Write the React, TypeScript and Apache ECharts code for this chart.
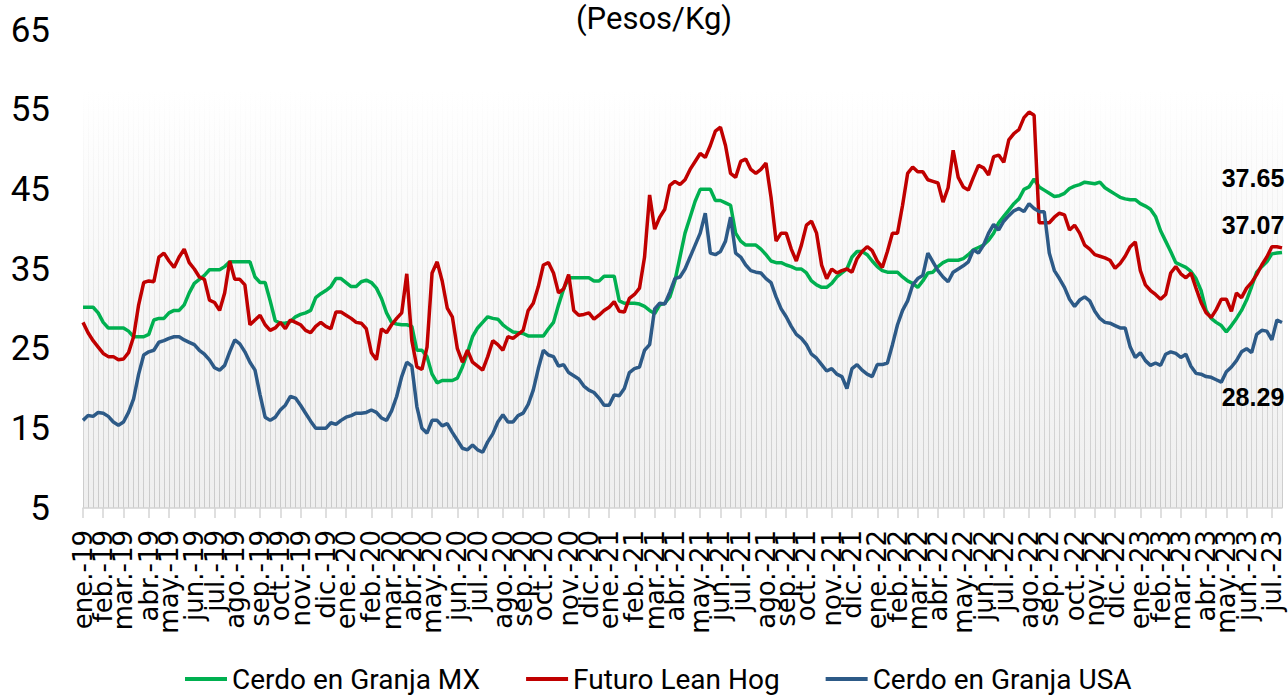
import React, { useEffect, useRef } from "react";
import * as echarts from "echarts";

// ---------- data ----------
const WEEK_START_UTC = [2019, 0, 4]; // first weekly observation (Friday)
const MONTH_ABBR = ["ene.", "feb.", "mar.", "abr.", "may.", "jun.", "jul.", "ago.", "sep.", "oct.", "nov.", "dic."];
const SERIES_NAMES = ["Cerdo en Granja MX", "Futuro Lean Hog", "Cerdo en Granja USA"];
const Y_MIN = 5;
const Y_MAX = 65;
const Y_STEP = 10;

const MX = [
  30.2, 30.2, 30.2, 29.5, 28.3, 27.6, 27.6, 27.6, 27.6, 27.2,
  26.5, 26.5, 26.5, 26.8, 28.6, 28.8, 28.8, 29.5, 29.8, 29.8,
  30.5, 32.0, 33.2, 33.7, 34.2, 34.9, 34.9, 34.9, 35.3, 35.9,
  35.9, 35.9, 35.9, 35.9, 34.0, 33.3, 33.3, 31.0, 28.5, 28.2,
  28.2, 28.4, 29.0, 29.3, 29.5, 29.8, 31.4, 31.9, 32.3, 32.8,
  33.8, 33.8, 33.3, 32.8, 32.8, 33.4, 33.6, 33.3, 32.6, 31.3,
  29.5, 28.3, 28.1, 28.0, 28.0, 27.8, 24.8, 24.8, 24.0, 21.8,
  20.7, 21.0, 21.0, 21.0, 21.3, 22.7, 24.5, 26.5, 27.6, 28.3,
  29.0, 28.8, 28.7, 28.0, 27.5, 27.1, 27.0, 26.9, 26.6, 26.6,
  26.6, 26.6, 27.5, 28.3, 30.5, 32.5, 33.9, 33.9, 33.9, 33.9,
  33.9, 33.5, 33.5, 34.1, 34.1, 34.1, 31.0, 30.7, 30.7, 30.7,
  30.6, 30.3, 29.8, 29.4, 30.5, 30.7, 31.5, 33.5, 36.5, 39.5,
  41.5, 43.5, 45.0, 45.0, 45.0, 43.6, 43.6, 43.3, 43.0, 39.5,
  38.5, 38.0, 38.0, 38.0, 37.5, 36.8, 36.0, 35.8, 35.8, 35.5,
  35.3, 35.0, 35.0, 34.5, 33.5, 33.0, 32.7, 32.7, 33.2, 34.0,
  34.5, 35.0, 36.5, 37.2, 37.2, 36.8, 36.0, 35.3, 34.8, 34.6,
  34.6, 34.6, 34.0, 33.5, 33.2, 32.7, 33.5, 34.5, 34.6, 35.3,
  35.8, 36.1, 36.1, 36.1, 36.3, 36.8, 37.4, 37.7, 38.0, 38.6,
  39.5, 40.8, 41.6, 42.4, 43.2, 43.8, 45.0, 45.3, 46.3, 45.3,
  44.9, 44.5, 44.1, 44.2, 44.5, 45.1, 45.4, 45.6, 45.9, 45.8,
  45.7, 45.9, 45.2, 44.8, 44.4, 44.0, 43.8, 43.7, 43.7, 43.2,
  42.9, 42.5, 41.6, 39.8, 38.5, 37.2, 35.8, 35.5, 35.2, 34.7,
  33.8, 32.3, 29.8, 28.8, 28.3, 27.9, 27.1, 27.9, 28.8, 29.8,
  31.1, 32.8, 34.6, 35.3, 35.9, 36.9, 37.0, 37.07,
];

const LEAN_HOG = [
  28.3, 27.0, 26.0, 25.2, 24.4, 24.0, 24.0, 23.6, 23.7, 24.5,
  26.5, 30.5, 33.3, 33.5, 33.4, 36.5, 37.0, 36.0, 35.2, 36.5,
  37.5, 35.8, 35.0, 34.0, 33.7, 31.1, 30.8, 29.8, 32.0, 36.0,
  33.7, 33.7, 33.0, 28.0, 28.6, 29.2, 28.0, 27.3, 27.6, 28.3,
  27.5, 28.6, 28.3, 28.0, 27.3, 27.0, 27.8, 28.3, 27.8, 27.5,
  29.6, 29.6, 29.2, 28.8, 28.3, 28.2, 27.5, 24.5, 23.6, 27.5,
  27.0, 28.0, 28.8, 29.5, 34.4, 26.0, 22.7, 22.4, 25.2, 34.5,
  35.9, 33.5, 30.1, 29.0, 25.0, 23.3, 24.8, 23.3, 22.8, 22.3,
  24.0, 26.0, 25.5, 24.8, 26.5, 26.3, 26.8, 27.3, 29.8, 30.7,
  32.8, 35.5, 35.8, 34.5, 32.0, 32.5, 34.3, 29.8, 29.2, 29.3,
  29.5, 28.7, 29.2, 29.8, 30.2, 30.9, 29.7, 29.6, 31.3, 31.8,
  32.6, 36.5, 44.3, 40.0, 41.5, 42.5, 45.5, 46.0, 45.6, 46.2,
  47.5, 48.5, 49.5, 49.0, 50.5, 52.3, 52.8, 50.5, 47.0, 46.5,
  48.5, 48.8, 47.5, 47.0, 47.5, 48.3, 44.0, 38.5, 39.5, 39.5,
  37.5, 36.0, 38.0, 40.5, 41.0, 39.5, 35.5, 33.8, 35.0, 34.5,
  34.8, 35.0, 34.6, 36.3, 37.2, 37.8, 37.3, 36.0, 35.2, 37.2,
  39.5, 39.5, 43.0, 47.0, 47.8, 47.2, 47.2, 46.2, 46.0, 45.8,
  43.4, 45.2, 49.9, 46.5, 45.3, 44.9, 46.5, 48.0, 47.7, 46.8,
  49.1, 49.3, 48.4, 51.2, 52.0, 52.5, 54.0, 54.7, 54.3, 40.8,
  40.8, 40.8, 41.5, 42.0, 41.8, 39.9, 40.5, 39.5, 38.0, 37.5,
  36.8, 36.6, 36.4, 36.1, 35.1, 35.7, 36.6, 37.8, 38.4, 34.8,
  33.0, 32.3, 31.8, 31.2, 31.8, 34.5, 35.3, 34.4, 33.9, 34.5,
  32.6, 30.8, 29.5, 28.9, 29.9, 31.2, 31.2, 29.7, 32.0, 31.4,
  32.6, 33.3, 34.3, 35.5, 36.5, 37.8, 37.8, 37.65,
];

const USA = [
  16.0, 16.6, 16.5, 17.0, 16.9, 16.5, 15.8, 15.4, 15.8, 17.0,
  18.7, 21.8, 24.2, 24.6, 24.8, 25.8, 26.0, 26.3, 26.5, 26.5,
  26.1, 25.8, 25.5, 24.8, 24.3, 23.6, 22.6, 22.3, 22.9, 24.6,
  26.1, 25.6, 24.6, 23.3, 22.3, 19.2, 16.4, 16.0, 16.4, 17.3,
  17.9, 19.0, 18.8, 17.9, 16.9, 15.9, 15.0, 15.0, 15.0, 15.7,
  15.5, 16.0, 16.4, 16.6, 16.9, 16.9, 17.0, 17.3, 17.0, 16.3,
  16.0, 17.2, 19.0, 21.5, 23.3, 22.8, 17.7, 15.0, 14.4, 16.0,
  16.0, 15.3, 15.6, 14.5, 13.5, 12.5, 12.3, 12.9, 12.3, 12.0,
  13.3, 14.3, 15.8, 16.7, 15.8, 15.8, 16.6, 16.9, 18.0, 19.8,
  22.5, 24.8, 24.2, 24.0, 22.8, 23.0, 22.0, 21.6, 21.2, 20.3,
  19.8, 19.5, 18.8, 17.9, 17.9, 19.2, 19.1, 20.0, 22.0, 22.5,
  22.7, 24.8, 25.5, 30.0, 30.7, 30.6, 32.1, 33.8, 34.0, 35.0,
  36.5, 38.0, 39.5, 42.0, 37.0, 36.8, 37.2, 38.5, 41.5, 37.0,
  36.5, 35.5, 34.8, 34.6, 34.5, 33.8, 33.3, 31.5, 30.0, 29.0,
  27.8, 26.8, 26.3, 25.5, 24.3, 23.8, 23.0, 22.2, 22.5, 21.8,
  21.5, 20.0, 22.5, 23.0, 22.3, 21.8, 21.5, 23.0, 23.0, 23.2,
  25.5, 28.0, 29.8, 31.0, 33.0, 33.8, 34.2, 37.0, 35.9, 34.8,
  34.0, 33.4, 34.6, 35.0, 35.4, 35.9, 37.4, 37.0, 38.0, 39.5,
  40.6, 39.9, 41.0, 41.7, 42.3, 42.6, 42.2, 43.2, 42.6, 42.2,
  42.2, 37.0, 34.8, 33.8, 32.7, 31.2, 30.3, 31.1, 31.5, 31.0,
  29.7, 28.8, 28.3, 28.2, 27.9, 27.6, 27.6, 25.2, 23.9, 24.5,
  23.5, 22.9, 23.2, 22.9, 24.3, 24.6, 24.4, 23.9, 24.3, 22.8,
  21.9, 21.8, 21.5, 21.4, 21.1, 20.8, 22.1, 22.7, 23.5, 24.6,
  25.0, 24.5, 26.8, 27.3, 27.2, 26.1, 28.6, 28.29,
];

// ---------- helpers ----------
const DAY_MS = 86400000;
function buildWeeks(n: number): string[] {
  const t0 = Date.UTC(WEEK_START_UTC[0], WEEK_START_UTC[1], WEEK_START_UTC[2]);
  const out: string[] = [];
  for (let i = 0; i < n; i++) out.push(new Date(t0 + i * 7 * DAY_MS).toISOString().slice(0, 10));
  return out;
}
const WEEKS = buildWeeks(MX.length);
const IS_MONTH_START = WEEKS.map((w, i) => i === 0 || w.slice(5, 7) !== WEEKS[i - 1].slice(5, 7));
function monthLabel(v: string): string {
  const m = parseInt(v.slice(5, 7), 10) - 1;
  return MONTH_ABBR[m] + "-" + v.slice(2, 4);
}

const NARROW = "Roboto, 'Liberation Sans', sans-serif";

export default function App() {
  const ref = useRef<HTMLDivElement>(null);
  useEffect(() => {
    if (!ref.current) return;
    const chart = echarts.init(ref.current, undefined, { renderer: "svg" });

    const hatchColor = new echarts.graphic.LinearGradient(
      0, 90, 0, 508,
      [
        { offset: 0, color: "rgba(205,205,205,0)" },
        { offset: 0.35, color: "rgba(205,205,205,0.25)" },
        { offset: 1, color: "rgba(200,200,200,0.95)" },
      ],
      true
    );
    const bgColor = new echarts.graphic.LinearGradient(0, 0, 0, 1, [
      { offset: 0, color: "#ffffff" },
      { offset: 1, color: "#efefef" },
    ]);

    const endLabel = (dx: number, dy: number) => ({
      show: true,
      distance: 0,
      align: "center",
      verticalAlign: "middle",
      offset: [dx, dy],
      formatter: (p: any) => Number(p.value).toFixed(2),
      fontFamily: "'Liberation Sans', Arial, sans-serif",
      fontWeight: "bold",
      fontSize: 25,
      color: "#000",
    });

    const mk = (name: string, data: number[], color: string, dx: number, dy: number) => ({
      name,
      type: "line",
      xAxisIndex: 0,
      yAxisIndex: 0,
      data,
      symbol: "none",
      lineStyle: { color, width: 3.5 },
      itemStyle: { color },
      endLabel: endLabel(dx, dy),
      z: 3,
    });

    chart.setOption({
      animation: false,
      backgroundColor: "#ffffff",
      title: {
        text: "(Pesos/Kg)",
        left: 576,
        top: 3,
        padding: [0, 0, 0, 0],
        textStyle: { fontFamily: NARROW, fontSize: 31, fontWeight: "normal", color: "#000" },
      },
      legend: {
        data: SERIES_NAMES,
        left: 180,
        top: 660,
        icon: "rect",
        itemWidth: 42,
        itemHeight: 4,
        itemGap: 46,
        textStyle: { fontFamily: NARROW, fontSize: 28, color: "#000" },
      },
      grid: [
        { left: 83, right: 6, top: 30, bottom: 192 },
        { left: 83, right: 6, top: 90, bottom: 192, show: true, borderWidth: 0, backgroundColor: bgColor, z: -2 },
      ],
      xAxis: [
        {
          gridIndex: 0,
          type: "category",
          data: WEEKS,
          boundaryGap: false,
          axisLine: { show: true, lineStyle: { color: "#d4d4d4", width: 1.5 } },
          axisTick: {
            show: true,
            interval: (i: number) => IS_MONTH_START[i],
            length: 10,
            lineStyle: { color: "#d4d4d4", width: 1.5 },
          },
          axisLabel: {
            interval: 0,
            hideOverlap: false,
            formatter: (v: string, i: number) => (IS_MONTH_START[i] ? monthLabel(v) : ""),
            rotate: 90,
            margin: 22,
            fontFamily: "'DejaVu Sans', sans-serif",
            fontSize: 26,
            color: "#000",
          },
          splitLine: { show: false },
        },
        {
          gridIndex: 1,
          type: "category",
          data: WEEKS,
          boundaryGap: false,
          z: -1,
          axisLine: { show: false },
          axisTick: { show: false },
          axisLabel: { show: false },
          splitLine: { show: true, interval: 0, lineStyle: { color: hatchColor, width: 1 } },
        },
      ],
      yAxis: [
        {
          gridIndex: 0,
          type: "value",
          min: Y_MIN,
          max: Y_MAX,
          interval: Y_STEP,
          axisLine: { show: false },
          axisTick: { show: false },
          splitLine: { show: false },
          axisLabel: { fontFamily: NARROW, fontSize: 35, color: "#000", margin: 33 },
        },
        { gridIndex: 1, type: "value", min: 0, max: 1, show: false },
      ],
      series: [
        mk(SERIES_NAMES[0], MX, "#00b050", -29, -28),
        mk(SERIES_NAMES[1], LEAN_HOG, "#c00000", -29, -70),
        mk(SERIES_NAMES[2], USA, "#2d5a87", -29, 75),
      ],
    });
    return () => chart.dispose();
  }, []);
  return (
    <div
      ref={ref}
      style={{ position: "fixed", left: 0, top: 0, width: 1288, height: 700 }}
    />
  );
}
